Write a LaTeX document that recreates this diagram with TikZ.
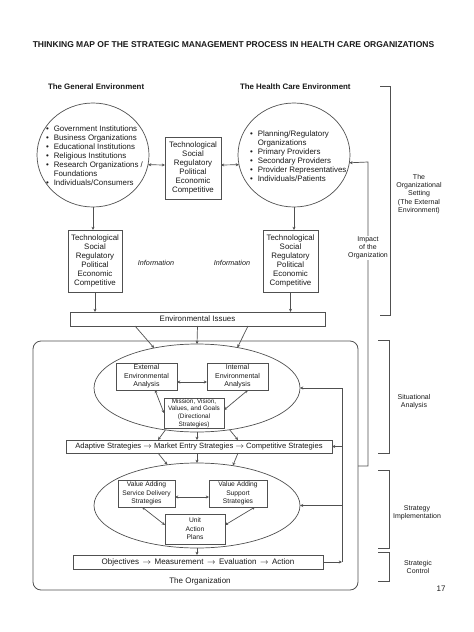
\documentclass[tikz,border=0pt]{standalone}
\usepackage{fontspec}
\setmainfont{Liberation Sans}
\usetikzlibrary{arrows.meta,shapes.geometric,calc}
\definecolor{ln}{HTML}{505050}
\begin{document}
\begin{tikzpicture}[x=1pt,y=-1pt,
 every node/.style={inner sep=0pt, outer sep=0pt, text=black!90},
 box/.style={draw=ln, line width=0.8pt, align=center},
 oval/.style={draw=ln, line width=0.7pt, ellipse},
 conn/.style={draw=ln, line width=0.7pt},
 arr/.style={conn, -{Stealth[length=3.2pt,width=3pt]}},
 darr/.style={conn, {Stealth[length=3.2pt,width=3pt]}-{Stealth[length=3.2pt,width=3pt]}},
 ft/.style={font=\fontsize{7.9}{9}\selectfont},
 fm/.style={font=\fontsize{7}{8.5}\selectfont},
 fs/.style={font=\fontsize{6.7}{8.5}\selectfont},
 fxs/.style={font=\fontsize{6.4}{7.7}\selectfont},
 brk/.style={draw=ln, line width=0.8pt},
 lbl/.style={font=\fontsize{7}{8.3}\selectfont, align=center},
 head/.style={font=\bfseries\fontsize{7.9}{9}\selectfont, anchor=west},
]
\useasboundingbox (0,0) rectangle (474,632);
% titles
\node[font=\bfseries\fontsize{8.5}{10}\selectfont] (title) at (233.5,45) {THINKING MAP OF THE STRATEGIC MANAGEMENT PROCESS IN HEALTH CARE ORGANIZATIONS};
\node[head] (genh) at (48,87) {The General Environment};
\node[head] (hch) at (240,87) {The Health Care Environment};
% environments
\node[oval, minimum width=112, minimum height=104] (lc) at (93,155) {};
\node[ft, anchor=west] (lct) at (46,157) {\begin{tabular}{@{}l@{\hspace{5pt}}l@{}}
•&Government Institutions\\
•&Business Organizations\\
•&Educational Institutions\\
•&Religious Institutions\\
•&Research Organizations /\\
&Foundations\\
•&Individuals/Consumers
\end{tabular}};
\node[box, ft, minimum width=56, minimum height=62] (tb) at (193,168) {Technological\\Social\\Regulatory\\Political\\Economic\\Competitive};
\node[oval, minimum width=112, minimum height=104] (rc) at (294,155) {};
\node[ft, anchor=west] (rct) at (250,157) {\begin{tabular}{@{}l@{\hspace{5pt}}l@{}}
•&Planning/Regulatory\\
&Organizations\\
•&Primary Providers\\
•&Secondary Providers\\
•&Provider Representatives\\
•&Individuals/Patients
\end{tabular}};
\node[box, ft, minimum width=54, minimum height=62] (lb) at (95,261) {Technological\\Social\\Regulatory\\Political\\Economic\\Competitive};
\node[box, ft, minimum width=55, minimum height=62] (rb) at (290.5,261) {Technological\\Social\\Regulatory\\Political\\Economic\\Competitive};
\node[font=\fontsize{7.2}{8.5}\selectfont\itshape] (inf1) at (156,263) {Information};
\node[font=\fontsize{7.2}{8.5}\selectfont\itshape] (inf2) at (232,263) {Information};
\node[box, ft, minimum width=255, minimum height=14] (env) at (197.5,319) {Environmental Issues};
% organization
\node[draw=ln, line width=0.8pt, rounded corners=8pt, minimum width=325, minimum height=249] (org) at (195.5,465.5) {};
\node[oval, minimum width=206, minimum height=88] (e1) at (197,388) {};
\node[box, fm, minimum width=61, minimum height=27] (ext) at (146.5,376.5) {External\\Environmental\\Analysis};
\node[box, fm, minimum width=61, minimum height=27] (int) at (237.5,376.5) {Internal\\Environmental\\Analysis};
\node[box, fxs, minimum width=60, minimum height=30] (mis) at (194,413) {Mission, Vision,\\Values, and Goals\\(Directional\\Strategies)};
\node[box, font=\fontsize{7.6}{9}\selectfont, minimum width=266, minimum height=13] (ad) at (199,446.5) {Adaptive Strategies $\rightarrow$ Market Entry Strategies $\rightarrow$ Competitive Strategies};
\node[oval, minimum width=206, minimum height=85] (e2) at (197,505.5) {};
\node[box, fs, minimum width=57, minimum height=27] (vas) at (146.5,493.5) {Value Adding\\Service Delivery\\Strategies};
\node[box, fs, minimum width=58, minimum height=27] (vss) at (238,493.5) {Value Adding\\Support\\Strategies};
\node[box, fs, minimum width=60, minimum height=30] (uap) at (195,529) {Unit\\Action\\Plans};
\node[box, font=\fontsize{8}{9}\selectfont, minimum width=250, minimum height=14] (obj) at (198,562) {Objectives \,$\rightarrow$\, Measurement \,$\rightarrow$\, Evaluation \,$\rightarrow$\, Action};
\node[font=\fontsize{8}{9}\selectfont] (orgl) at (200,581) {The Organization};
\coordinate (fbb) at (342,562);
\coordinate (fbt) at (342,388);
\coordinate (imb) at (368,466);
\coordinate (imt) at (368,162);
% connectors
\draw[darr] (lc.-10.3) -- ($(tb.west)+(0,-3)$);
\draw[darr] ($(tb.east)+(0,-3)$) -- (rc.190.3);
\draw[arr] (lc.south) -- (lc.south |- lb.north);
\draw[arr] (rc.south) -- (rc.south |- rb.north);
\draw[arr] (lb.south) -- (lb.south |- env.north);
\draw[arr] (rb.south) -- (rb.south |- env.north);
\draw[arr] ($(env.south)+(-62.5,0)$) -- (e1.137);
\draw[arr] (env.south) -- (e1.north);
\draw[arr] ($(env.south)+(50.5,0)$) -- (e1.45);
\draw[darr] ($(ext.east)+(0,5.5)$) -- ($(int.west)+(0,5.5)$);
\draw[darr] ($(ext.south)+(8.5,0)$) -- (mis.west);
\draw[darr] ($(int.south)+(10.5,0)$) -- ($(mis.east)+(0,-3)$);
\draw[arr] (e1.233) -- ($(ad.north)+(-41,0)$);
\draw[arr] (e1.south) -- (e1.south |- ad.north);
\draw[arr] (e1.308) -- ($(ad.north)+(39,0)$);
\draw[arr] ($(ad.south)+(-41,0)$) -- (e2.126);
\draw[arr] (ad.south -| e2.north) -- (e2.north);
\draw[arr] ($(ad.south)+(39,0)$) -- (e2.48);
\draw[darr] ($(vas.east)+(0,3.5)$) -- ($(vss.west)+(0,3.5)$);
\draw[darr] ($(vas.south)+(-4.5,0)$) -- ($(uap.west)+(0,-4)$);
\draw[darr] ($(vss.south)+(17,0)$) -- ($(uap.east)+(0,-4)$);
\draw[arr] (e2.south) -- (e2.south |- obj.north);
\draw[arr] (obj.east) -- (fbb);
\draw[conn] (fbb) -- (fbt);
\draw[arr] (fbt) -- (e1.east);
\draw[arr] (ad.east -| fbt) -- (ad.east);
\draw[arr] (e2.east -| fbt) -- (e2.east);
\draw[arr] (org.east |- imb) -- (imb) -- (imt) -- (rc.352.8);
\node[lbl, fill=white, inner sep=1pt] (imp) at (368,248) {Impact\\of the\\Organization};
% brackets
\draw[brk] (380,86) -- (390,86) -- (390,315) -- (380,315);
\draw[brk] (378,340) -- (389,340) -- (389,453) -- (378,453);
\draw[brk] (378,470) -- (389,470) -- (389,548) -- (378,548);
\draw[brk] (378,552) -- (389,552) -- (389,581) -- (378,581);
\node[lbl] (set) at (419,194) {The\\Organizational\\Setting\\(The External\\Environment)};
\node[lbl] (sit) at (414,402) {Situational\\Analysis};
\node[lbl] (imp2) at (417,513) {Strategy\\Implementation};
\node[lbl] (ctl) at (418,567) {Strategic\\Control};
\node[font=\fontsize{8}{9}\selectfont] (pg) at (441,589) {17};
\end{tikzpicture}
\end{document}
